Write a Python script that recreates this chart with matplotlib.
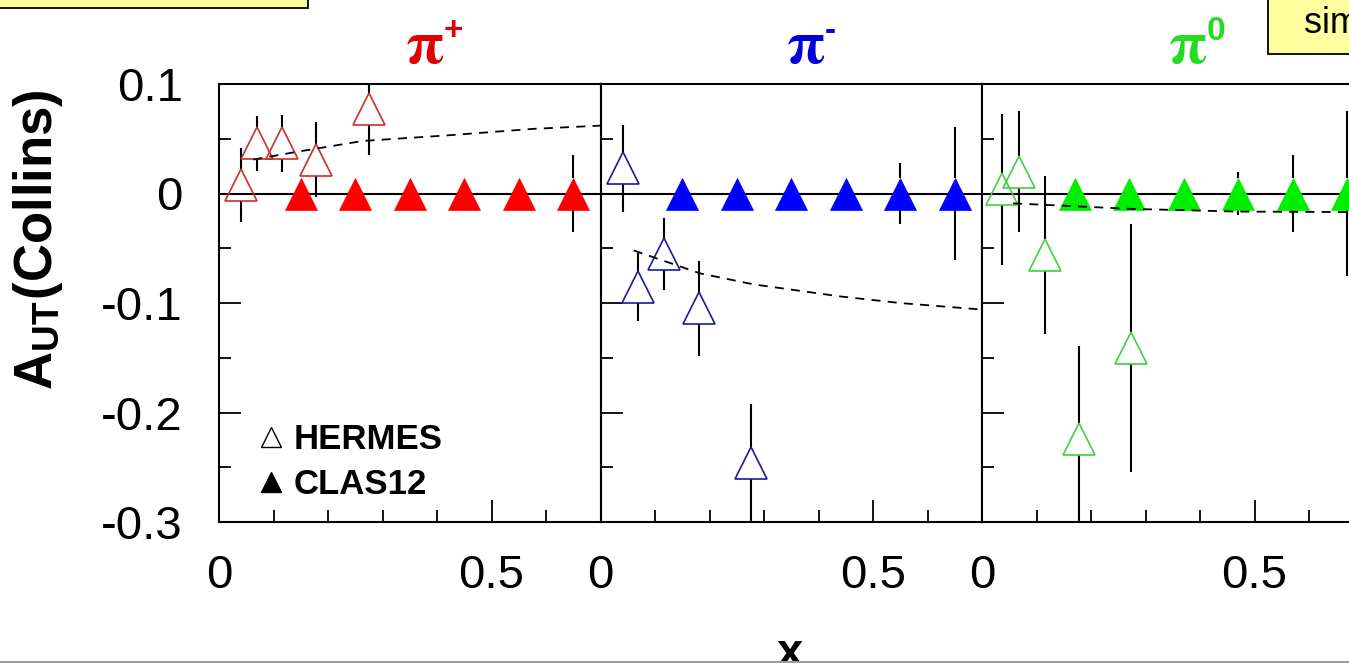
import matplotlib
matplotlib.use("Agg")
import matplotlib.pyplot as plt
from matplotlib.lines import Line2D
from matplotlib.patches import Rectangle
import numpy as np

plt.rcParams['font.family'] = ['Liberation Sans', 'DejaVu Sans']
plt.rcParams['mathtext.fontset'] = 'stix'

# ---------------- data ----------------
x_ticks = [0.0, 0.5]
x_tick_labels = ["0", "0.5"]
y_ticks = [0.1, 0.0, -0.1, -0.2, -0.3]
y_tick_labels = ["0.1", "0", "-0.1", "-0.2", "-0.3"]

pip_hermes_x = [0.040, 0.069, 0.115, 0.178, 0.275]
pip_hermes_y = [0.008, 0.046, 0.046, 0.031, 0.077]
pip_hermes_err = [0.034, 0.025, 0.026, 0.034, 0.042]
pip_clas_x = [0.15, 0.25, 0.35, 0.45, 0.55, 0.65]
pip_clas_y = [0.0, 0.0, 0.0, 0.0, 0.0, 0.0]
pip_clas_err = [0.004, 0.005, 0.006, 0.008, 0.012, 0.035]
pip_model_x = [0.063, 0.142, 0.264, 0.417, 0.576, 0.700]
pip_model_y = [0.031, 0.038, 0.048, 0.053, 0.059, 0.062]

pim_hermes_x = [0.041, 0.068, 0.116, 0.180, 0.277]
pim_hermes_y = [0.023, -0.085, -0.055, -0.105, -0.246]
pim_hermes_err = [0.040, 0.031, 0.033, 0.043, 0.054]
pim_clas_x = [0.15, 0.25, 0.35, 0.45, 0.55, 0.65]
pim_clas_y = [0.0, 0.0, 0.0, 0.0, 0.0, 0.0]
pim_clas_err = [0.004, 0.005, 0.006, 0.008, 0.028, 0.061]
pim_model_x = [0.061, 0.183, 0.281, 0.440, 0.549, 0.700]
pim_model_y = [-0.052, -0.073, -0.083, -0.094, -0.100, -0.106]

pi0_hermes_x = [0.037, 0.068, 0.115, 0.178, 0.274]
pi0_hermes_y = [0.004, 0.020, -0.056, -0.224, -0.141]
pi0_hermes_err = [0.069, 0.055, 0.072, 0.085, 0.113]
pi0_clas_x = [0.17, 0.27, 0.37, 0.47, 0.57, 0.67]
pi0_clas_y = [0.0, 0.0, 0.0, 0.0, 0.0, 0.0]
pi0_clas_err = [0.004, 0.005, 0.007, 0.020, 0.035, 0.075]
pi0_model_x = [0.057, 0.271, 0.466, 0.700]
pi0_model_y = [-0.009, -0.014, -0.0165, -0.017]

panels = [
    dict(sign="+", title_color="#e00000", open_color="#c83030", fill_color="#ff0000",
         hx=pip_hermes_x, hy=pip_hermes_y, he=pip_hermes_err,
         cx=pip_clas_x, cy=pip_clas_y, ce=pip_clas_err,
         mx=pip_model_x, my=pip_model_y),
    dict(sign="-", title_color="#0000dd", open_color="#1a1a9c", fill_color="#0000ff",
         hx=pim_hermes_x, hy=pim_hermes_y, he=pim_hermes_err,
         cx=pim_clas_x, cy=pim_clas_y, ce=pim_clas_err,
         mx=pim_model_x, my=pim_model_y),
    dict(sign="0", title_color="#22dd22", open_color="#40d040", fill_color="#00ee00",
         hx=pi0_hermes_x, hy=pi0_hermes_y, he=pi0_hermes_err,
         cx=pi0_clas_x, cy=pi0_clas_y, ce=pi0_clas_err,
         mx=pi0_model_x, my=pi0_model_y),
]

# ---------------- layout ----------------
W, H, DPI = 1349, 663, 100
fig = plt.figure(figsize=(W / DPI, H / DPI), dpi=DPI)

ax_left_px, ax_w_px = 219, 381.5
ax_top_px, ax_bot_px = 84, 522
ylim = (-0.3, 0.1)
xlim = (0.0, 0.7)
ms = 23  # marker size in points

ax_h_px = ax_bot_px - ax_top_px
# half marker height expressed in data units: error bars stop at the marker edge
gap = (ms * DPI / 72.0 / 2.0) * (ylim[1] - ylim[0]) / ax_h_px


def split_errorbars(ax, x, y, e):
    x = np.asarray(x); y = np.asarray(y); e = np.asarray(e)
    keep = e > gap
    ax.vlines(x[keep], y[keep] + gap, y[keep] + e[keep], color="black", lw=1.5, zorder=2)
    ax.vlines(x[keep], y[keep] - e[keep], y[keep] - gap, color="black", lw=1.5, zorder=2)


axes = []
for i, p in enumerate(panels):
    left = (ax_left_px + i * ax_w_px) / W
    ax = fig.add_axes([left, (H - ax_bot_px) / H, ax_w_px / W, ax_h_px / H])
    axes.append(ax)
    ax.set_xlim(*xlim)
    ax.set_ylim(*ylim)
    for s in ax.spines.values():
        s.set_linewidth(1.5)

    ax.axhline(0.0, color="black", lw=1.5, zorder=1)

    split_errorbars(ax, p["hx"], p["hy"], p["he"])
    split_errorbars(ax, p["cx"], p["cy"], p["ce"])

    ax.plot(p["hx"], p["hy"], ls="none", marker="^", ms=ms, mfc="none",
            mec=p["open_color"], mew=1.2, zorder=3)
    ax.plot(p["cx"], p["cy"], ls="none", marker="^", ms=ms, mfc=p["fill_color"],
            mec=p["fill_color"], mew=0.5, zorder=3)
    ax.plot(p["mx"], p["my"], ls=(0, (5, 4)), color="black", lw=1.3, zorder=4)

    # ticks
    ax.set_xticks(x_ticks)
    ax.set_xticklabels(x_tick_labels)
    ax.set_xticks([0.1, 0.2, 0.3, 0.4, 0.6], minor=True)
    ax.set_yticks(y_ticks)
    ax.set_yticks([0.05, -0.05, -0.15, -0.25], minor=True)
    ax.tick_params(which="both", direction="in", top=False, right=False, width=1.3)
    ax.tick_params(which="major", length=16, labelsize=34)
    ax.tick_params(which="minor", length=8.5)
    ax.tick_params(axis="x", which="major", pad=23)
    ax.tick_params(axis="y", which="major", pad=26)
    if i == 0:
        ax.set_yticklabels(y_tick_labels)
    else:
        ax.set_yticklabels([])

    # panel title: pi with charge superscript
    t = ax.text(0.4875, 1.0 + 21.0 / ax_h_px, r"$\mathbf{\pi}$", transform=ax.transAxes,
                ha="left", va="baseline", fontsize=44, color=p["title_color"])
    ax.annotate(p["sign"], xy=(0.98, 1.05), xycoords=t, ha="left", va="top",
                fontsize=24, fontweight="bold", color=p["title_color"])

# legend in the first panel
handles = [
    Line2D([], [], ls="none", marker="^", ms=14, mfc="none", mec="black", mew=1.0),
    Line2D([], [], ls="none", marker="^", ms=14, mfc="black", mec="black"),
]
axes[0].legend(handles, ["HERMES", "CLAS12"], loc="upper left",
               bbox_to_anchor=(0.105, 0.226), frameon=False,
               handlelength=0.7, handletextpad=0.3, labelspacing=0.35,
               borderpad=0, borderaxespad=0,
               prop=dict(size=25, weight="bold"))

# axis titles
fig.text(38 / W, 1 - 240 / H, r"A$_{\mathregular{UT}}$(Collins)", rotation=90,
         ha="center", va="center", fontsize=38, fontweight="bold")
fig.text(790 / W, -0.004, "x", ha="center", va="baseline", fontsize=34,
         fontweight="bold")

# slide decorations
fig.add_artist(Rectangle((-0.02, 1 - 8 / H), (308 + 27) / W, 0.1,
                         transform=fig.transFigure, facecolor="#ffffa0",
                         edgecolor="black", lw=1.3, zorder=5))
fig.add_artist(Rectangle((1268 / W, 1 - 54 / H), 0.2, 0.2,
                         transform=fig.transFigure, facecolor="#ffffa0",
                         edgecolor="black", lw=1.3, zorder=5))
fig.text(1304 / W, 1 - 33 / H, "simulations", ha="left", va="baseline",
         fontsize=26, zorder=6)
fig.add_artist(Line2D([0, 1], [1.5 / H, 1.5 / H], transform=fig.transFigure,
                      color="#9a9a9a", lw=1.5, zorder=10))

fig.savefig("out.png", dpi=DPI)
